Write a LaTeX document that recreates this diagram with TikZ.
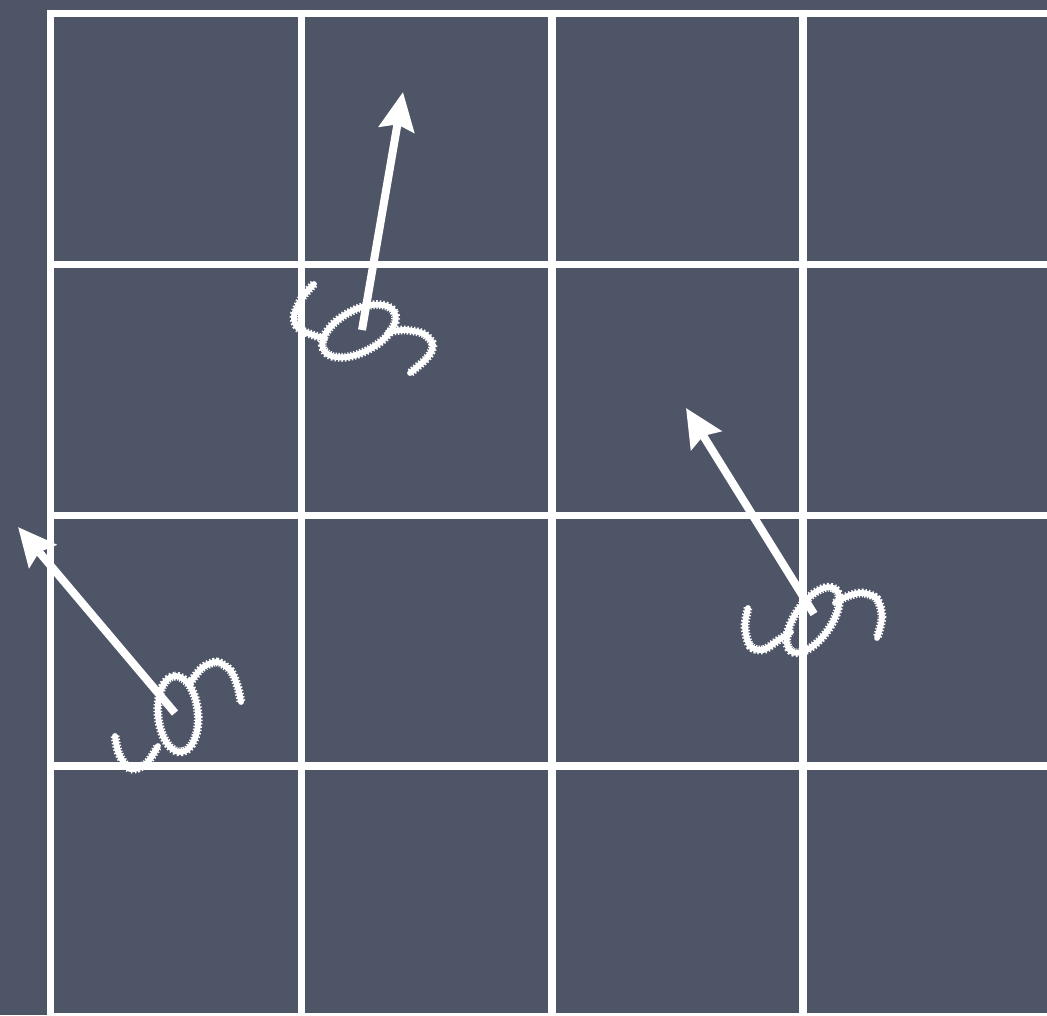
\documentclass[tikz,border=0pt]{standalone}
\usetikzlibrary{arrows.meta}
\definecolor{slate}{HTML}{4E5567}
\begin{document}
\begin{tikzpicture}[x=0.25pt,y=-0.25pt,
  gridline/.style={draw=white,line width=1.875pt},
  chalk/.style={draw=white,line width=1.45pt,line join=round,line cap=round,
    preaction={draw=white,line width=2.2pt,dash pattern=on 0.35pt off 0.45pt}},
  arr/.style={draw=white,line width=2pt,-{Stealth[length=9.5pt,width=8.8pt,inset=1.3pt]}}]
\useasboundingbox (0,0) rectangle (1047,1015);
\fill[slate] (0,0) rectangle (1047,1015);
\clip (0,0) rectangle (1047,1015);
% grid
\foreach \x in {50.5,301.5,552,803,1054} \draw[gridline] (\x,9.75) -- (\x,1030);
\foreach \y in {13.5,264.5,515.5,766,1017} \draw[gridline] (46.75,\y) -- (1060,\y);
% curl 1
\draw[chalk] plot[smooth] coordinates {(314,284) (302,298) (294,316) (298,328) (310,334) (325,339)};
\draw[chalk] plot[domain=0:360,samples=72,smooth]
  ({359+40*cos(\x)*cos(28)+21*sin(\x)*(-sin(28))},{331-40*cos(\x)*sin(28)+21*sin(\x)*(-cos(28))});
\draw[chalk] plot[smooth] coordinates {(388,332) (405,330) (424,334) (433,345) (427,358) (410,373)};
% curl 2
\draw[chalk] plot[smooth] coordinates {(748,608) (745,627) (750,646) (763,650) (777,641) (791,632)};
\draw[chalk] plot[domain=0:360,samples=72,smooth]
  ({813+38*cos(\x)*cos(55)+18*sin(\x)*(-sin(55))},{620-38*cos(\x)*sin(55)+18*sin(\x)*(-cos(55))});
\draw[chalk] plot[smooth] coordinates {(835,603) (848,596) (863,593) (877,599) (882,617) (877,638)};
% curl 3
\draw[chalk] plot[smooth] coordinates {(115,736) (119,754) (130,769) (146,764) (158,746)};
\draw[chalk] plot[domain=0:360,samples=72,smooth]
  ({178+38*cos(\x)*cos(95)+20*sin(\x)*(-sin(95))},{714-38*cos(\x)*sin(95)+20*sin(\x)*(-cos(95))});
\draw[chalk] plot[smooth] coordinates {(190,683) (202,668) (217,662) (231,671) (238,688) (241,702)};
% arrows
\coordinate (t1) at (362,330); \coordinate (h1) at (403,92);
\coordinate (t2) at (814,614); \coordinate (h2) at (686,408);
\coordinate (t3) at (175,713); \coordinate (h3) at (18,527);
\draw[arr] (t1) -- (h1);
\draw[arr] (t2) -- (h2);
\draw[arr] (t3) -- (h3);
\end{tikzpicture}
\end{document}
